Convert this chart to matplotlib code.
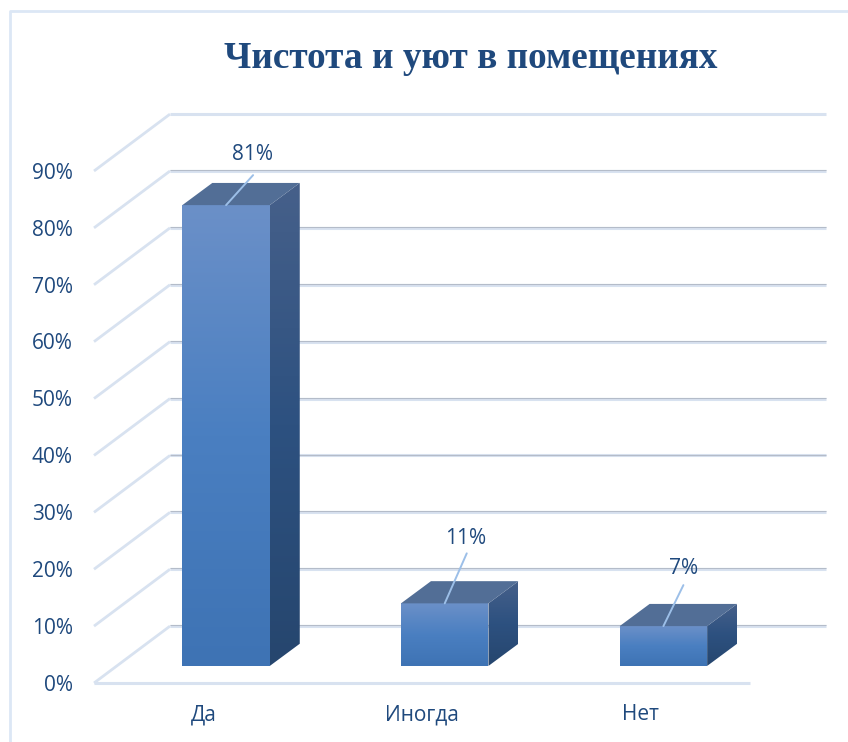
import numpy as np
import matplotlib
matplotlib.use('Agg')
import matplotlib.pyplot as plt
from matplotlib.colors import LinearSegmentedColormap
from matplotlib.patches import Polygon

title = 'Чистота и уют в помещениях'
categories = ['Да', 'Иногда', 'Нет']
values = [81, 11, 7]
ticks = [0, 10, 20, 30, 40, 50, 60, 70, 80, 90]

W, H = 848, 742
TEXT = '#1f497d'
GRID = '#d8e2f0'
GRID_DARK = '#b4bcc9'
PT = 0.72  # points per pixel at dpi 100

# oblique projection, in data units
DEPTH_X, DEPTH_Y = 0.3476, 10.0
BAR_W = 0.4
BAR_X, BAR_Y = 0.104, 3.0
BAR_DX, BAR_DY = 0.137, 3.9

front_cmap = LinearSegmentedColormap.from_list('front', ['#6b90c8', '#4a7fc1', '#3e73b4'])
side_cmap = LinearSegmentedColormap.from_list('side', ['#46608a', '#2d5180', '#26466e'])

fig = plt.figure(figsize=(W / 100, H / 100), dpi=100, facecolor='white')
ax = fig.add_axes([94 / W, 1 - 683 / H, 656 / W, 512 / H])
ax.set_xlim(-0.5, 2.5)
ax.set_ylim(0, 90)
ax.axis('off')

# chart border
border = fig.add_axes([0, 0, 1, 1], zorder=-1)
border.set_xlim(0, W)
border.set_ylim(H, 0)
border.axis('off')
border.plot([10, 10, W], [H, 11, 11], color='#dce7f5', lw=2.0, solid_capstyle='butt')

left, right = -0.5, 2.5
for t in ticks:
    # side wall and back wall
    ax.plot([left, left + DEPTH_X], [t, t + DEPTH_Y], color=GRID, lw=2.0, clip_on=False, zorder=1,
            solid_capstyle='butt')
    ax.plot([left + DEPTH_X, right + DEPTH_X], [t + DEPTH_Y] * 2, color=GRID, lw=2.2,
            clip_on=False, zorder=1, solid_capstyle='butt')
    if t < 90:
        ax.plot([left + DEPTH_X, right + DEPTH_X], [t + DEPTH_Y + 0.15] * 2, color=GRID_DARK, lw=0.8,
                clip_on=False, zorder=1, solid_capstyle='butt')
    ax.text(left - 0.097, t - 0.4, f'{t}%', ha='right', va='center', color=TEXT, fontsize=15,
            family='Open Sans')
ax.plot([left, right], [0, 0], color=GRID, lw=2.2, clip_on=False, zorder=1, solid_capstyle='butt')

grad = np.linspace(0, 1, 256).reshape(-1, 1)


def gradient_poly(pts, cmap, zorder):
    xs, ys = zip(*pts)
    im = ax.imshow(grad, cmap=cmap, aspect='auto', origin='upper', zorder=zorder,
                   extent=[min(xs), max(xs), min(ys), max(ys)])
    clip = Polygon(pts, transform=ax.transData, fc='none', ec='none')
    ax.add_patch(clip)
    im.set_clip_path(clip)


# leader end and label centre, pixels from the middle of the bar's front top edge
leader_ends = [(27, 30), (22, 50), (20, 41)]
label_centres = [(26, 51), (21, 65), (20, 58)]

for i, (name, v) in enumerate(zip(categories, values)):
    x0 = i - BAR_W / 2 + BAR_X
    x1 = x0 + BAR_W
    y0 = BAR_Y
    y1 = BAR_Y + v
    gradient_poly([(x0, y0), (x1, y0), (x1, y1), (x0, y1)], front_cmap, 3)
    gradient_poly([(x1, y0), (x1 + BAR_DX, y0 + BAR_DY), (x1 + BAR_DX, y1 + BAR_DY), (x1, y1)],
                  side_cmap, 3)
    ax.add_patch(Polygon([(x0, y1), (x1, y1), (x1 + BAR_DX, y1 + BAR_DY), (x0 + BAR_DX, y1 + BAR_DY)],
                         fc='#526e96', ec='none', zorder=3))
    mid = (x0 + x1) / 2
    lx, ly = leader_ends[i]
    ax.annotate('', xy=(mid, y1), xytext=(lx * PT, ly * PT), textcoords='offset points', zorder=4,
                arrowprops=dict(arrowstyle='-', color='#9cbfe8', lw=1.4, shrinkA=0, shrinkB=0))
    tx, ty = label_centres[i]
    ax.annotate(f'{v}%', xy=(mid, y1), xytext=(tx * PT, ty * PT), textcoords='offset points',
                ha='center', va='center', color=TEXT, fontsize=15, family='Open Sans', zorder=5)
    ax.text(i, -5.6, name, ha='center', va='center', color=TEXT, fontsize=15, family='Open Sans',
            clip_on=False)

fig.text(471 / W, 1 - 58 / H, title, ha='center', va='center', color=TEXT, fontsize=26.8,
         fontweight='bold', family='Liberation Serif')

fig.savefig('out.png', dpi=100)
